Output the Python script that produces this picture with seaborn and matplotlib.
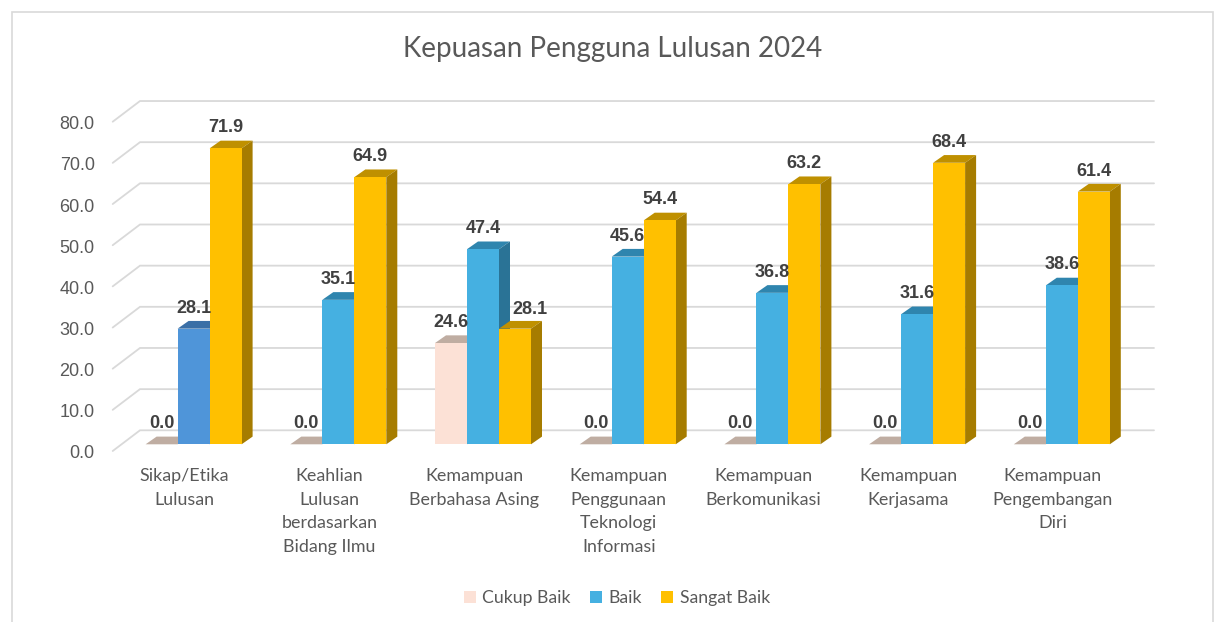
import pandas as pd
import matplotlib
matplotlib.use("Agg")
import matplotlib.pyplot as plt
import matplotlib.transforms as mtrans
from matplotlib.patches import Polygon, Rectangle
import seaborn as sns

# Values
aspek = ['Sikap/Etika\nLulusan', 'Keahlian\nLulusan\nberdasarkan\nBidang Ilmu',
         'Kemampuan\nBerbahasa Asing', 'Kemampuan\nPenggunaan\nTeknologi\nInformasi',
         'Kemampuan\nBerkomunikasi', 'Kemampuan\nKerjasama',
         'Kemampuan\nPengembangan\nDiri']
cukup_baik = [0.0, 0.0, 24.6, 0.0, 0.0, 0.0, 0.0]
baik = [28.1, 35.1, 47.4, 45.6, 36.8, 31.6, 38.6]
sangat_baik = [71.9, 64.9, 28.1, 54.4, 63.2, 68.4, 61.4]
kategori = ['Cukup Baik', 'Baik', 'Sangat Baik']
y_ticks = [0, 10, 20, 30, 40, 50, 60, 70, 80]

warna = {'Cukup Baik': '#FCE1D6', 'Baik': '#45B0E1', 'Sangat Baik': '#FFC000'}
warna_atas = {'Cukup Baik': '#BFADA2', 'Baik': '#2F85AE', 'Sangat Baik': '#BF9000'}
warna_sisi = {'Cukup Baik': '#A89A90', 'Baik': '#2A7396', 'Sangat Baik': '#A67C00'}

df = pd.DataFrame({
    'Aspek': aspek * 3,
    'Kategori': [k for k in kategori for _ in aspek],
    'Nilai': cukup_baik + baik + sangat_baik,
})

sns.set_theme(style="white")
plt.rcParams['font.family'] = ['Lato', 'DejaVu Sans']

W, H = 1216, 622
fig = plt.figure(figsize=(W / 100, H / 100), dpi=100, facecolor='white')

# Pixel layout of the fake 3D chart
PX_UNIT = 4.116      # pixels per value unit
PX_GROUP = 144.7     # pixels between groups
BASE_Y = 444.3       # bar front base
GROUP0_X = 193.6     # centre of first group
ax_l, ax_r, ax_t, ax_b = 100, 1160, 95, 460
ax = fig.add_axes([ax_l / W, (H - ax_b) / H, (ax_r - ax_l) / W, (ax_b - ax_t) / H])
ax.patch.set_alpha(0)

sns.barplot(data=df, x='Aspek', y='Nilai', hue='Kategori', order=aspek, hue_order=kategori,
            palette=warna, width=32 * 3 / PX_GROUP, gap=0, saturation=1, linewidth=0, ax=ax, zorder=5)

ax.set_xlim((ax_l - GROUP0_X) / PX_GROUP, (ax_r - GROUP0_X) / PX_GROUP)
ax.set_ylim((BASE_Y - ax_b) / PX_UNIT, (BASE_Y - ax_t) / PX_UNIT)
sns.despine(ax=ax, left=True, bottom=True)
ax.set_xlabel('')
ax.set_ylabel('')


def dx(px):
    return px / PX_GROUP


def dy(px):
    return px / PX_UNIT


# Gridlines: floor/wall corner plus back wall
x_depan = (112.7 - GROUP0_X) / PX_GROUP
x_belakang = (140 - GROUP0_X) / PX_GROUP
x_kanan = (1154 - GROUP0_X) / PX_GROUP
for v in y_ticks:
    ax.plot([x_depan, x_belakang, x_kanan], [v - dy(6.7), v + dy(14), v + dy(14)],
            color='#D9D9D9', lw=1.3, zorder=1, solid_joinstyle='miter', clip_on=False)

# Top and side faces for each bar
DEPTH_X, DEPTH_Y = dx(11), dy(7.7)
for i, (k, cont) in enumerate(zip(kategori, ax.containers)):
    for j, bar in enumerate(cont):
        x0, x1, h = bar.get_x(), bar.get_x() + bar.get_width(), bar.get_height()
        bar.set_zorder(5 + i * 3)
        atas = warna_atas[k]
        if k == 'Baik' and j == 0:
            bar.set_facecolor('#4F95D9')
            atas = '#3A6FA6'
        ax.add_patch(Polygon([(x0, h), (x1, h), (x1 + DEPTH_X, h + DEPTH_Y), (x0 + DEPTH_X, h + DEPTH_Y)],
                             closed=True, fc=atas, ec='none', zorder=4 + i * 3))
        if h > 0:
            ax.add_patch(Polygon([(x1, 0), (x1 + DEPTH_X, DEPTH_Y), (x1 + DEPTH_X, h + DEPTH_Y), (x1, h)],
                                 closed=True, fc=warna_sisi[k], ec='none', zorder=4 + i * 3))
    labels = ax.bar_label(cont, fmt='%.1f', padding=20.5 * 0.72, fontsize=13, fontweight='bold',
                          color='#404040', family=['Liberation Sans'], zorder=30)
    for t in labels:
        t.set_va('center')
    if k == 'Sangat Baik':
        # this label sits beside the tall blue bar in the original
        labels[2].xyann = (15 * 0.72, 19.5 * 0.72)

# Axis labels
ax.set_yticks(y_ticks, [f'{v:.1f}' for v in y_ticks])
ax.set_xticks(range(len(aspek)), aspek)
ax.tick_params(axis='both', length=0)
ax.tick_params(axis='y', pad=3.8, labelsize=13, labelcolor='#595959')
ax.tick_params(axis='x', pad=5.8, labelsize=12.9, labelcolor='#595959')
geser_y = mtrans.ScaledTranslation(0, -7.7 / 100, fig.dpi_scale_trans)
for t in ax.get_yticklabels():
    t.set_transform(t.get_transform() + geser_y)
    t.set_family(['Liberation Sans'])
geser_x = mtrans.ScaledTranslation(-9 / 100, 0, fig.dpi_scale_trans)
for t in ax.get_xticklabels():
    t.set_transform(t.get_transform() + geser_x)
    t.set_linespacing(1.59)

fig.text(612.5 / W, 1 - 49 / H, 'Kepuasan Pengguna Lulusan 2024', ha='center', va='center',
         fontsize=20, color='#595959')

handles, labels = ax.get_legend_handles_labels()
ax.legend(handles, labels, ncol=3, loc='center', bbox_to_anchor=(617 / W, 1 - 598 / H),
          bbox_transform=fig.transFigure, frameon=False, fontsize=12.7, labelcolor='#595959',
          handlelength=0.68, handleheight=0.68, handletextpad=0.35, columnspacing=1.1)

# Chart frame, open at the bottom edge of the crop
fig.add_artist(Rectangle((12 / W, -0.05), 1201 / W, 1.05 - 11.5 / H, transform=fig.transFigure,
                         fill=False, ec='#D9D9D9', lw=1.2))

fig.savefig('out.png', dpi=100)
